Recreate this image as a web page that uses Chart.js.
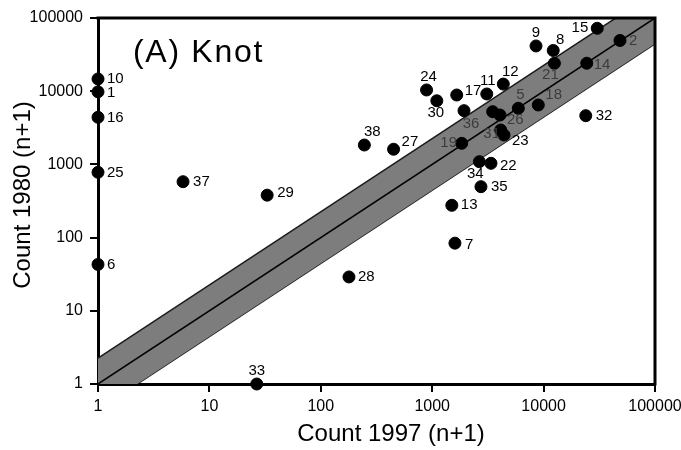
<!DOCTYPE html>
<html>
<head>
<meta charset="utf-8">
<script src="https://cdn.jsdelivr.net/npm/chart.js@4/dist/chart.umd.min.js"></script>
<style>
  body { margin: 0; background: #fff; }
  #wrap { width: 681px; height: 450px; }
</style>
</head>
<body>
<div id="wrap"><canvas id="knotChart" width="681" height="450"></canvas></div>
<script>
// site numbers ('' = dot without a label)
var siteIds   = ['1', '2', '', '5', '6', '7', '8', '9', '10', '11', '12', '13', '14', '15', '16', '17', '18', '19',
                 '21', '22', '23', '24', '25', '26', '27', '28', '29', '30', '31', '32', '33', '34', '35', '36', '37', '38'];
var count1997 = [1, 48500, 3490, 5930, 1, 1600, 12200, 8550, 1, 3090, 4350, 1500, 24400, 30300, 1, 1660, 8960, 1840,
                 12500, 3370, 4410, 890, 1, 4060, 450, 179, 33, 1100, 4120, 23900, 26.6, 2650, 2740, 1930, 5.8, 246];
var count1980 = [9800, 49300, 5250, 5840, 43, 84, 36000, 41500, 14700, 9160, 12500, 276, 24100, 72300, 4400, 8870, 6480, 1940,
                 24100, 1035, 2520, 10400, 780, 4730, 1610, 29, 380, 7400, 2950, 4630, 1, 1090, 496, 5420, 580, 1840];
var tickValues = [1, 10, 100, 1000, 10000, 100000];
var lineX = [1, 100000];
var bandFactor = 2.25;

var FONT = "'Liberation Sans', Arial, Helvetica, sans-serif";

// where each number sits relative to its dot: dx, dy, align, grey (inside the band)
var labelPos = {
    '1': [9, 1, 'left'], '10': [9, 0, 'left'], '16': [9, 1, 'left'], '25': [9, 1, 'left'], '6': [9, 0, 'left'],
    '37': [10, 0, 'left'], '29': [10, -2, 'left'], '33': [0, -13, 'center'], '28': [9, 0, 'left'],
    '7': [10, 2, 'left'], '13': [9, 0, 'left'], '35': [10, 0, 'left'], '22': [9, 3, 'left'],
    '34': [-4, 12, 'center'], '23': [8, 6, 'left'], '31': [-9, 4, 'center', 1], '19': [-13, 0, 'center', 1],
    '38': [8, -13, 'center'], '27': [8, -7, 'left'], '24': [2, -13, 'center'], '30': [-1, 12, 'center'],
    '17': [8, -4, 'left'], '11': [1, -13, 'center'], '12': [7, -12, 'center'], '36': [7, 13, 'center', 1],
    '26': [7, 5, 'left', 1], '5': [2, -13, 'center', 1], '18': [7, -10, 'left', 1], '21': [-4, 12, 'center', 1],
    '14': [7, 2, 'left', 1], '2': [9, 0, 'left', 1], '15': [-9, 0, 'right'], '8': [7, -11, 'center'],
    '9': [0, -13, 'center'], '32': [10, 0, 'left']
};

var points = count1997.map(function (x, i) { return {x: x, y: count1980[i]}; });

var annotate = {
    id: 'annotate',
    afterDraw: function (chart) {
        var ctx = chart.ctx, a = chart.chartArea;
        ctx.save();
        // top and right frame
        ctx.strokeStyle = '#000';
        ctx.lineWidth = 3;
        ctx.beginPath();
        ctx.moveTo(a.left - 1.5, a.top);
        ctx.lineTo(a.right, a.top);
        ctx.lineTo(a.right, a.bottom + 1.5);
        ctx.stroke();

        // dot numbers
        ctx.font = '15px ' + FONT;
        ctx.textBaseline = 'middle';
        chart.getDatasetMeta(0).data.forEach(function (pt, i) {
            var id = siteIds[i];
            var p = labelPos[id];
            if (!id || !p) return;
            ctx.textAlign = p[2];
            ctx.fillStyle = p[3] ? '#3c3c3c' : '#000';
            ctx.fillText(id, pt.x + p[0], pt.y + p[1]);
        });

        // panel title
        ctx.fillStyle = '#000';
        ctx.textAlign = 'left';
        ctx.textBaseline = 'alphabetic';
        ctx.font = '32px ' + FONT;
        ctx.letterSpacing = '1.7px';
        ctx.fillText('(A) Knot', 133, 62);
        ctx.letterSpacing = '0px';

        // axis titles
        ctx.font = '24px ' + FONT;
        ctx.textAlign = 'center';
        ctx.textBaseline = 'middle';
        ctx.fillText('Count 1997 (n+1)', 391, 434);
        ctx.translate(23, 195);
        ctx.rotate(-Math.PI / 2);
        ctx.fillText('Count 1980 (n+1)', 0, 0);
        ctx.restore();
    }
};

function logAxis(side) {
    return {
        type: 'logarithmic',
        position: side,
        min: tickValues[0],
        max: tickValues[tickValues.length - 1],
        afterBuildTicks: function (s) {
            s.ticks = tickValues.map(function (v) { return {value: v}; });
        },
        afterFit: function (s) {
            if (side === 'left') {
                s.width = 98;
            } else {
                s.height = 66;
                s.paddingRight = 0; // let "100000" run off the edge like the original
            }
        },
        ticks: {
            callback: function (v) { return String(v); },
            color: '#000',
            font: {size: 16, family: FONT},
            padding: side === 'left' ? 7 : 5,
            autoSkip: false,
            maxRotation: 0
        },
        grid: {drawOnChartArea: false, color: '#000', lineWidth: 2, tickLength: 8},
        border: {color: '#000', width: 3}
    };
}

var ctx = document.getElementById('knotChart');
var knotChart = new Chart(ctx, {
    type: 'scatter',
    data: {
        datasets: [
            {
                data: points,
                backgroundColor: '#000',
                borderColor: '#000',
                pointRadius: 6,
                pointHoverRadius: 6,
                clip: false,
                order: 0
            },
            {
                data: lineX.map(function (x) { return {x: x, y: x * bandFactor}; }),
                showLine: true,
                borderColor: '#1a1a1a',
                borderWidth: 1.5,
                pointRadius: 0,
                backgroundColor: '#7d7d7d',
                fill: '+1',
                clip: 0,
                order: 2
            },
            {
                data: lineX.map(function (x) { return {x: x, y: x / bandFactor}; }),
                showLine: true,
                borderColor: '#1a1a1a',
                borderWidth: 1.5,
                pointRadius: 0,
                fill: false,
                clip: 0,
                order: 2
            },
            {
                data: lineX.map(function (x) { return {x: x, y: x}; }),
                showLine: true,
                borderColor: '#000',
                borderWidth: 1.5,
                pointRadius: 0,
                fill: false,
                clip: 0,
                order: 1
            }
        ]
    },
    options: {
        responsive: false,
        animation: false,
        maintainAspectRatio: false,
        layout: {padding: {top: 18, right: 26, left: 0, bottom: 0}},
        plugins: {legend: {display: false}, tooltip: {enabled: false}},
        scales: {
            x: logAxis('bottom'),
            y: logAxis('left')
        }
    },
    plugins: [annotate]
});
</script>
</body>
</html>
